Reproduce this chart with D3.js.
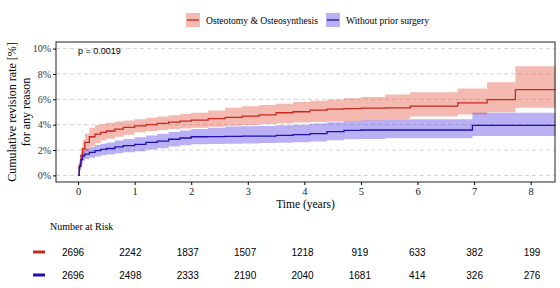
<!DOCTYPE html>
<html>
<head>
<meta charset="utf-8">
<script src="https://cdn.jsdelivr.net/npm/d3@7"></script>
<style>
  body { margin: 0; background: #fff; }
  svg { display: block; }
</style>
</head>
<body>
<div id="container"></div>
<script>
/* CONSTANTS AND GLOBALS */
const width = 560;
const height = 288;
const margin = { top: 42, right: 5, bottom: 106, left: 56 };
const serif = "'Liberation Serif', 'Times New Roman', serif";
const sans = "'Liberation Sans', Arial, sans-serif";

/* DATA */
// shared time points (years)
const times = [0, 0.02, 0.05, 0.08, 0.12, 0.2, 0.3, 0.4, 0.5, 0.65, 0.8, 1.0, 1.2, 1.4, 1.6, 1.8, 2.0,
  2.3, 2.6, 2.9, 3.2, 3.5, 3.8, 4.1, 4.4, 4.7, 5.0, 5.43, 5.87, 6.71, 6.97, 7.23, 7.73, 8.44];

// Osteotomy & Osteosynthesis (cumulative %)
const redEst = [0, 0.8, 1.6, 2.1, 2.6, 3.05, 3.25, 3.4, 3.5, 3.65, 3.78, 3.9, 4.0, 4.1, 4.2, 4.28, 4.36,
  4.47, 4.57, 4.68, 4.78, 4.94, 5.02, 5.15, 5.22, 5.26, 5.3, 5.32, 5.46, 5.72, 5.72, 5.98, 6.77, 6.77];
const redLow = [0, 0.45, 1.0, 1.45, 1.9, 2.3, 2.55, 2.75, 2.9, 3.05, 3.2, 3.4, 3.5, 3.58, 3.65, 3.7, 3.76,
  3.84, 3.92, 3.98, 4.05, 4.12, 4.18, 4.22, 4.26, 4.3, 4.33, 4.45, 4.65, 4.8, 4.8, 4.98, 5.33, 5.33];
const redHigh = [0, 1.2, 2.2, 2.8, 3.3, 3.76, 3.95, 4.05, 4.15, 4.25, 4.33, 4.42, 4.55, 4.65, 4.75, 4.85, 4.94,
  5.12, 5.33, 5.45, 5.55, 5.65, 5.78, 5.88, 5.98, 6.08, 6.18, 6.38, 6.56, 6.85, 6.85, 7.34, 8.6, 8.6];

// Without prior surgery (cumulative %)
const blueEst = [0, 0.7, 1.25, 1.54, 1.68, 1.82, 1.95, 2.05, 2.12, 2.25, 2.35, 2.45, 2.6, 2.7, 2.85, 2.95, 3.05,
  3.06, 3.08, 3.1, 3.1, 3.15, 3.22, 3.3, 3.45, 3.55, 3.58, 3.58, 3.58, 3.58, 3.95, 3.95, 3.95, 3.95];
const blueLow = [0, 0.4, 0.85, 1.15, 1.3, 1.4, 1.5, 1.58, 1.65, 1.75, 1.82, 1.9, 2.05, 2.15, 2.28, 2.38, 2.45,
  2.48, 2.5, 2.52, 2.55, 2.58, 2.62, 2.68, 2.78, 2.85, 2.88, 2.93, 2.93, 2.93, 3.11, 3.11, 3.11, 3.11];
const blueHigh = [0, 1.0, 1.65, 1.95, 2.1, 2.25, 2.4, 2.5, 2.6, 2.75, 2.88, 3.0, 3.15, 3.28, 3.42, 3.55, 3.65,
  3.75, 3.85, 3.88, 3.9, 3.95, 4.0, 4.1, 4.2, 4.3, 4.35, 4.42, 4.42, 4.42, 4.94, 4.94, 4.94, 4.94];

const groups = ["Osteotomy & Osteosynthesis", "Without prior surgery"];
const xTicks = [0, 1, 2, 3, 4, 5, 6, 7, 8];
const yTicks = [0, 2, 4, 6, 8, 10];
const riskTimes = [0, 1, 2, 3, 4, 5, 6, 7, 8];
const riskRed = [2696, 2242, 1837, 1507, 1218, 919, 633, 382, 199];
const riskBlue = [2696, 2498, 2333, 2190, 2040, 1681, 414, 326, 276];
const pValue = "p = 0.0019";

const lineColors = ["#c8281e", "#1e10b0"];
const bandColors = ["rgba(225,70,50,0.38)", "rgba(60,40,225,0.36)"];

const series = [
  { name: groups[0], est: redEst, low: redLow, high: redHigh },
  { name: groups[1], est: blueEst, low: blueLow, high: blueHigh }
].map(s => ({ ...s, values: times.map((t, i) => ({ t, est: s.est[i], low: s.low[i], high: s.high[i] })) }));

/* SCALES */
const xScale = d3.scaleLinear()
  .domain([-0.39, 8.43])
  .range([margin.left, width - margin.right]);

const yScale = d3.scaleLinear()
  .domain([-0.52, 10.52])
  .range([height - margin.bottom, margin.top]);

const xRisk = d3.scaleLinear()
  .domain([0, 8])
  .range([73, 532]);

/* HTML ELEMENTS */
const svg = d3.select("#container")
  .append("svg")
  .attr("width", width)
  .attr("height", height)
  .style("font-family", serif);

// grid lines
svg.append("g")
  .selectAll("line")
  .data(yTicks)
  .join("line")
  .attr("x1", margin.left)
  .attr("x2", width - margin.right)
  .attr("y1", d => yScale(d))
  .attr("y2", d => yScale(d))
  .attr("stroke", "#c8c8c8")
  .attr("stroke-width", 0.8)
  .attr("stroke-dasharray", "4,3");

// bands
const area = d3.area()
  .x(d => xScale(d.t))
  .y0(d => yScale(d.low))
  .y1(d => yScale(d.high))
  .curve(d3.curveStepAfter);

svg.append("g")
  .selectAll("path")
  .data(series)
  .join("path")
  .attr("d", d => area(d.values))
  .attr("fill", (d, i) => bandColors[i]);

// lines
const line = d3.line()
  .x(d => xScale(d.t))
  .y(d => yScale(d.est))
  .curve(d3.curveStepAfter);

svg.append("g")
  .selectAll("path")
  .data(series)
  .join("path")
  .attr("d", d => line(d.values))
  .attr("fill", "none")
  .attr("stroke", (d, i) => lineColors[i])
  .attr("stroke-width", 1.3);

// frame
svg.append("rect")
  .attr("x", margin.left)
  .attr("y", margin.top)
  .attr("width", width - margin.left - margin.right)
  .attr("height", height - margin.top - margin.bottom)
  .attr("fill", "none")
  .attr("stroke", "#222")
  .attr("stroke-width", 1);

// axes
const xAxis = svg.append("g")
  .attr("transform", `translate(0,${height - margin.bottom})`)
  .call(d3.axisBottom(xScale).tickValues(xTicks).tickSize(3).tickPadding(3))
  .attr("font-family", serif)
  .attr("font-size", 10.5);
xAxis.select(".domain").remove();
xAxis.selectAll("text").attr("fill", "#222");

const yAxis = svg.append("g")
  .attr("transform", `translate(${margin.left},0)`)
  .call(d3.axisLeft(yScale).tickValues(yTicks).tickFormat(d => d + "%").tickSize(3).tickPadding(2))
  .attr("font-family", serif)
  .attr("font-size", 10);
yAxis.select(".domain").remove();
yAxis.selectAll("text").attr("fill", "#333");

// axis titles
svg.append("text")
  .attr("x", (margin.left + width - margin.right) / 2)
  .attr("y", 208)
  .attr("text-anchor", "middle")
  .style("font-size", "11.5px")
  .text("Time (years)");

const yTitle = svg.append("text")
  .attr("transform", `translate(16,${(margin.top + height - margin.bottom) / 2}) rotate(-90)`)
  .attr("text-anchor", "middle")
  .style("font-size", "12px");
yTitle.append("tspan").attr("x", 0).attr("dy", 0).text("Cumulative revision rate [%]");
yTitle.append("tspan").attr("x", 0).attr("dy", 13.5).text("for any reason");

// p-value
svg.append("text")
  .attr("x", xScale(0))
  .attr("y", 54)
  .style("font-family", sans)
  .style("font-size", "9px")
  .text(pValue);

// legend
const legendX = [186, 326];
const legend = svg.append("g")
  .selectAll("g")
  .data(groups)
  .join("g")
  .attr("transform", (d, i) => `translate(${legendX[i]},13)`);
legend.append("rect")
  .attr("width", 14)
  .attr("height", 14)
  .attr("fill", (d, i) => bandColors[i]);
legend.append("line")
  .attr("x1", 1).attr("x2", 13)
  .attr("y1", 7).attr("y2", 7)
  .attr("stroke", (d, i) => lineColors[i])
  .attr("stroke-width", 1.3);
legend.append("text")
  .attr("x", 20)
  .attr("y", 10.5)
  .style("font-size", "9.6px")
  .text(d => d);

// number at risk table
svg.append("text")
  .attr("x", 50)
  .attr("y", 230)
  .style("font-size", "10px")
  .text("Number at Risk");

const riskRows = [riskRed, riskBlue];
const rowY = [252, 275];
riskRows.forEach((row, r) => {
  svg.append("rect")
    .attr("x", 33)
    .attr("y", rowY[r] - 1.5)
    .attr("width", 12)
    .attr("height", 3)
    .attr("fill", lineColors[r]);
  svg.append("g")
    .selectAll("text")
    .data(row)
    .join("text")
    .attr("x", (d, i) => xRisk(riskTimes[i]))
    .attr("y", rowY[r] + 3.5)
    .attr("text-anchor", "middle")
    .style("font-family", sans)
    .style("font-size", "10px")
    .text(d => d);
});
</script>
</body>
</html>
